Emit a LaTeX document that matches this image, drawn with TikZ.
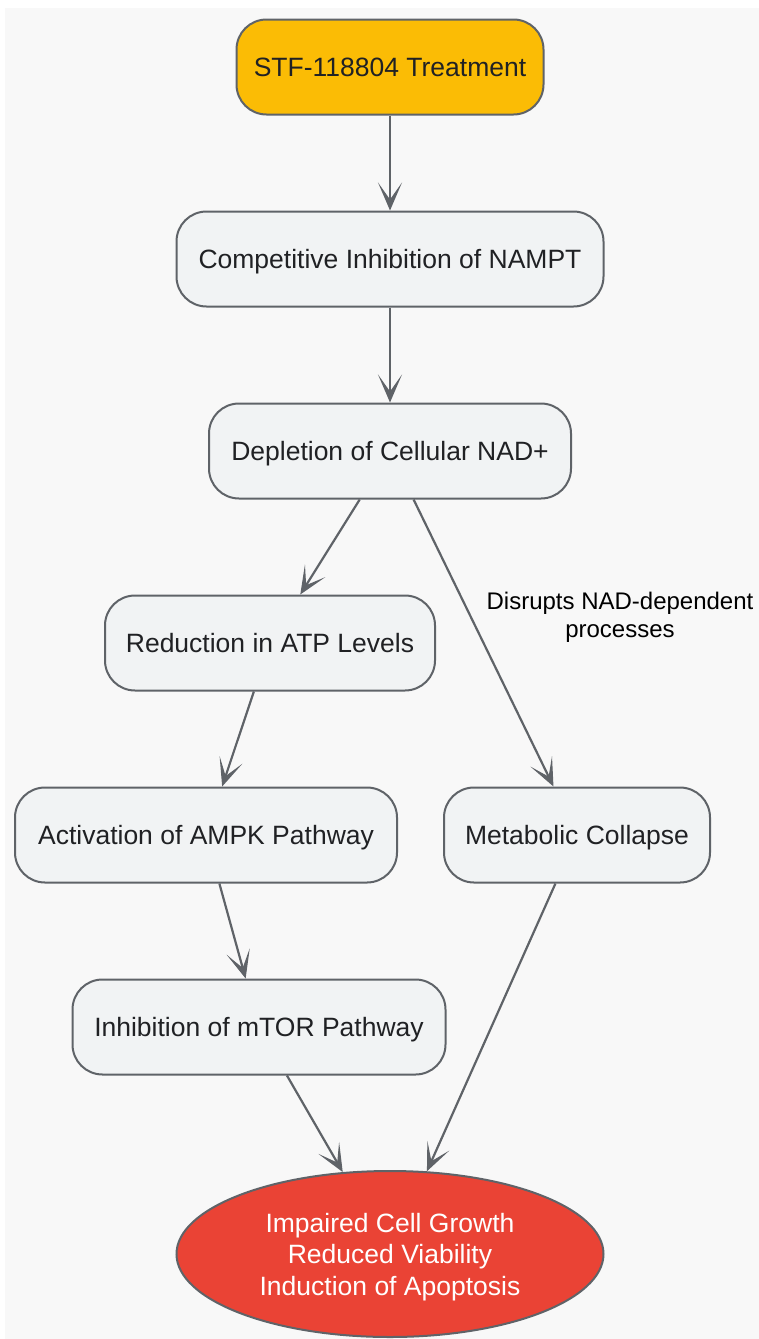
\documentclass[tikz,border=0pt]{standalone}
\usepackage{fontspec}
\setmainfont{Liberation Sans}
\usetikzlibrary{arrows.meta,shapes.geometric}
\definecolor{bgc}{HTML}{F8F8F8}
\definecolor{boxfill}{HTML}{F1F3F4}
\definecolor{edgec}{HTML}{5F6368}
\definecolor{txt}{HTML}{202124}
\definecolor{yel}{HTML}{FBBC05}
\definecolor{redc}{HTML}{EA4335}
\tikzset{
  box/.style={draw=edgec, line width=2pt, fill=boxfill, rounded corners=30pt,
    inner sep=0pt, minimum height=95pt, text=txt, text height=19pt, text depth=0pt,
    font=\fontsize{26.5}{31}\selectfont},
  conn/.style={draw=edgec, line width=2.2pt,
    -{Stealth[length=28pt,width=24pt,inset=17pt,line width=1.2pt]}},
  lbl/.style={text=black, font=\fontsize{24}{28}\selectfont, align=center, inner sep=0pt},
}
\begin{document}
\begin{tikzpicture}[x=1pt,y=-1pt]
\useasboundingbox (0,0) rectangle (759,1339);
\fill[white] (0,0) rectangle (759,1339);
\fill[bgc] (5,8) rectangle (759,1339);

\node[box, fill=yel, minimum width=307pt] (stf) at (390,67) {STF-118804 Treatment};
\node[box, minimum width=427pt] (nampt) at (390,259) {Competitive Inhibition of NAMPT};
\node[box, minimum width=362pt] (nad) at (390,451) {Depletion of Cellular NAD+};
\node[box, minimum width=330pt] (atp) at (270,643) {Reduction in ATP Levels};
\node[box, minimum width=382pt] (ampk) at (206,835) {Activation of AMPK Pathway};
\node[box, minimum width=266pt] (meta) at (577,835) {Metabolic Collapse};
\node[box, minimum width=373pt] (mtor) at (259,1027) {Inhibition of mTOR Pathway};
\node[ellipse, draw=edgec, line width=2pt, fill=redc, inner sep=0pt,
  minimum width=427pt, minimum height=166pt, text=white, align=center,
  text depth=0pt, font=\fontsize{26.5}{31.5}\selectfont] (out) at (390,1254)
  {Impaired Cell Growth\\Reduced Viability\\Induction of Apoptosis};

\node[lbl] (dlab) at (620,617) {Disrupts NAD-dependent\\processes};

\draw[conn] (stf) -- (nampt);
\draw[conn] (nampt) -- (nad);
\draw[conn] (nad) -- (atp);
\draw[conn] (nad) -- (meta);
\draw[conn] (atp) -- (ampk);
\draw[conn] (ampk) -- (mtor);
\draw[conn] (mtor) -- (out);
\draw[conn] (meta) -- (out);
\end{tikzpicture}
\end{document}
